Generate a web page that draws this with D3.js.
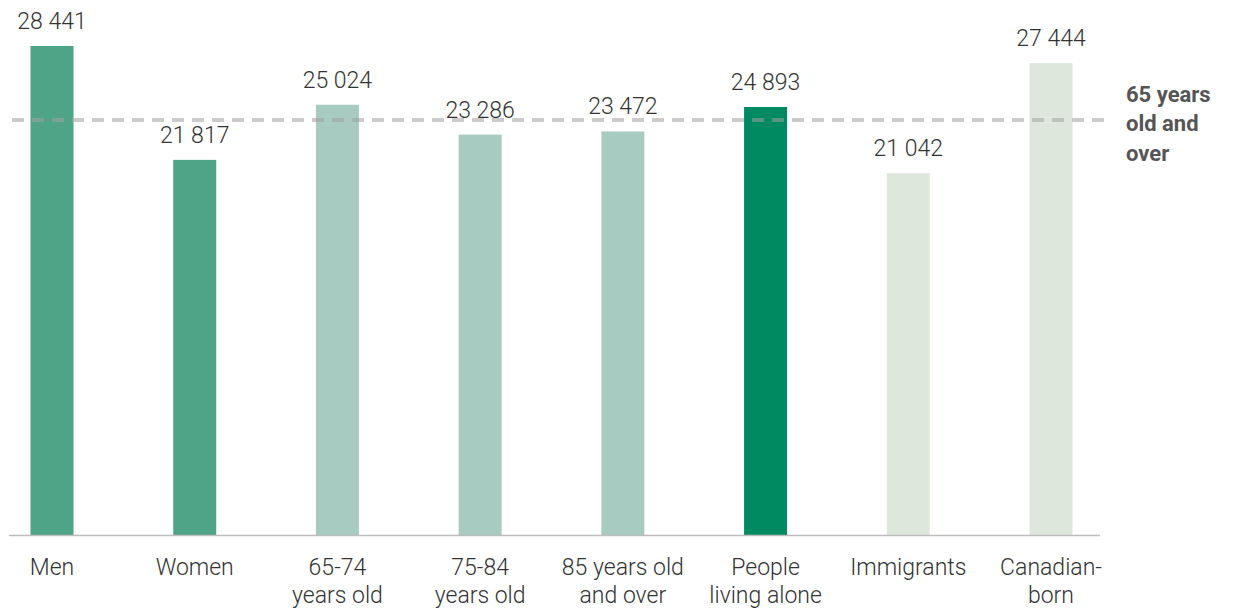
<!DOCTYPE html>
<html>
<head>
<meta charset="utf-8">
<script src="https://cdn.jsdelivr.net/npm/d3@7"></script>
<style>
  body { margin: 0; background: #fff; }
  svg text { font-family: Roboto, "Noto Sans", sans-serif; }
</style>
</head>
<body>
<svg id="chart"></svg>
<script>
// Chart data
var categories = ["Men", "Women", "65-74 years old", "75-84 years old", "85 years old and over",
    "People living alone", "Immigrants", "Canadian-born"];
var labelLines = [["Men"], ["Women"], ["65-74", "years old"], ["75-84", "years old"],
    ["85 years old", "and over"], ["People", "living alone"], ["Immigrants"], ["Canadian-", "born"]];
var values = [28441, 21817, 25024, 23286, 23472, 24893, 21042, 27444];
var groups = ["sex", "sex", "age", "age", "age", "alone", "origin", "origin"];
var referenceValue = 24140;
var referenceLines = ["65 years", "old and", "over"];

var w = 1243;
var h = 608;
var baseY = 535;
var topY = 46;

var colors = {
    sex: "#4fa386",
    age: "#a7cbc1",
    alone: "#008a62",
    origin: "#dde7dc"
};

var svg = d3.select("#chart").attr("width", w).attr("height", h);

var x = d3.scalePoint()
    .domain(categories)
    .range([52, 1051]);

var y = d3.scaleLinear()
    .domain([0, d3.max(values)])
    .range([baseY, topY]);

var barW = 43;
var data = categories.map(function(c, i) {
    return { cat: c, value: values[i], group: groups[i], lines: labelLines[i] };
});

// bars
svg.append("g").selectAll("rect")
    .data(data)
    .enter()
    .append("rect")
    .attr("x", function(d) { return x(d.cat) - barW / 2; })
    .attr("y", function(d) { return y(d.value); })
    .attr("width", barW)
    .attr("height", function(d) { return y(0) - y(d.value); })
    .attr("fill", function(d) { return colors[d.group]; });

// baseline
svg.append("line")
    .attr("x1", 9).attr("x2", 1100)
    .attr("y1", y(0) + 0.5).attr("y2", y(0) + 0.5)
    .attr("stroke", "#bdbdbd")
    .attr("stroke-width", 1.5);

// reference dashed line, drawn over bars
svg.append("line")
    .attr("x1", 12).attr("x2", 1104)
    .attr("y1", y(referenceValue)).attr("y2", y(referenceValue))
    .attr("stroke", "#a0a0a0")
    .attr("stroke-opacity", 0.55)
    .attr("stroke-width", 4)
    .attr("stroke-dasharray", "12,8");

svg.append("text")
    .attr("x", 1126)
    .attr("y", y(referenceValue) - 18)
    .attr("fill", "#555")
    .attr("font-size", "22px")
    .attr("font-weight", 700)
    .selectAll("tspan")
    .data(referenceLines)
    .enter()
    .append("tspan")
    .attr("x", 1126)
    .attr("dy", function(d, i) { return i === 0 ? 0 : 29.5; })
    .text(function(d) { return d; });

// value labels
var fmt = function(v) { return d3.format(",")(v).replace(",", " "); };
svg.append("g").selectAll("text")
    .data(data)
    .enter()
    .append("text")
    .attr("x", function(d) { return x(d.cat); })
    .attr("y", function(d) { return y(d.value) - 17; })
    .attr("text-anchor", "middle")
    .attr("fill", "#333")
    .attr("font-size", "23px")
    .attr("font-weight", 300)
    .text(function(d) { return fmt(d.value); });

// category labels
var cat = svg.append("g").selectAll("text")
    .data(data)
    .enter()
    .append("text")
    .attr("x", function(d) { return x(d.cat); })
    .attr("y", 575)
    .attr("text-anchor", "middle")
    .attr("fill", "#333")
    .attr("font-size", "23px")
    .attr("font-weight", 300);

cat.selectAll("tspan")
    .data(function(d) { return d.lines.map(function(l) { return { t: l, cx: x(d.cat) }; }); })
    .enter()
    .append("tspan")
    .attr("x", function(d) { return d.cx; })
    .attr("dy", function(d, i) { return i === 0 ? 0 : 28; })
    .text(function(d) { return d.t; });
</script>
</body>
</html>
